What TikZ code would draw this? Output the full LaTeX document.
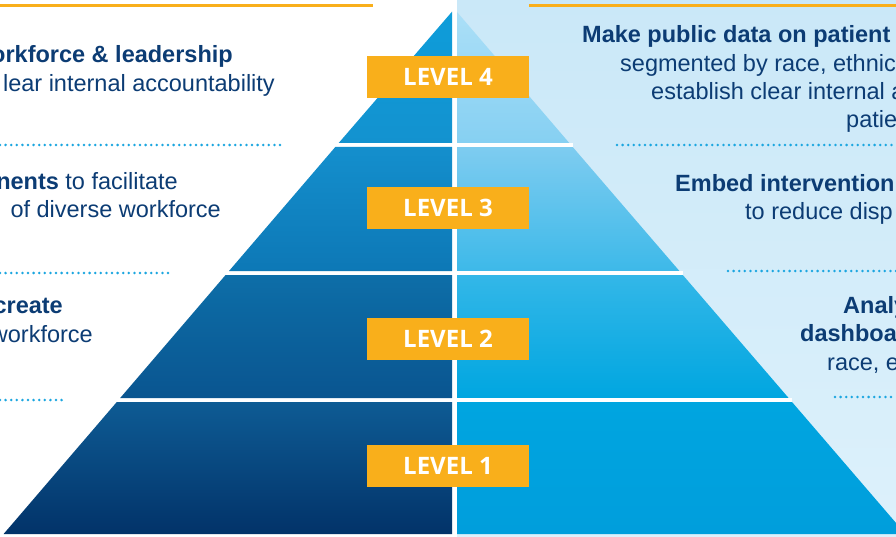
\documentclass[tikz,border=0pt]{standalone}
\usepackage{fontspec}
\setmainfont{Liberation Sans}
\newfontfamily\lvlfont{Open Sans}
\definecolor{navy}{HTML}{0C3C74}
\definecolor{orangeA}{HTML}{F9AF1B}
\definecolor{dotc}{HTML}{1BA6E0}
\definecolor{bgtop}{HTML}{CAE8F8}
\definecolor{bgbot}{HTML}{DDF1FB}
\definecolor{lAt}{HTML}{0E9DDA}\definecolor{lAb}{HTML}{1392CF}
\definecolor{lBt}{HTML}{148FCD}\definecolor{lBb}{HTML}{0D78B6}
\definecolor{lCt}{HTML}{0D6EA8}\definecolor{lCb}{HTML}{0A5590}
\definecolor{lDt}{HTML}{0E5B94}\definecolor{lDb}{HTML}{023369}
\definecolor{rAt}{HTML}{ABDFF7}\definecolor{rAb}{HTML}{86D0F2}
\definecolor{rBt}{HTML}{7ECCF0}\definecolor{rBb}{HTML}{3DB9E9}
\definecolor{rCt}{HTML}{33B7E8}\definecolor{rCb}{HTML}{00A6E0}
\definecolor{rDt}{HTML}{00A5E0}\definecolor{rDb}{HTML}{009EDC}
\tikzset{
  txt/.style={inner sep=0pt, text=navy, font=\fontsize{23.5}{28.5}\selectfont},
  btxt/.style={txt, font=\fontsize{23.5}{28.5}\selectfont\bfseries},
  lvl/.style={fill=orangeA, text=white, minimum width=162pt, minimum height=42pt, inner sep=0pt,
    font=\lvlfont\bfseries\fontsize{24}{28}\selectfont},
  dotline/.style={draw=dotc, line width=2.8pt, line cap=round, dash pattern=on 0pt off 5.6pt},
  topline/.style={draw=orangeA, line width=3pt},
  sep/.style={fill=white}
}
\begin{document}
\begin{tikzpicture}[x=1pt,y=-1pt]
\useasboundingbox (0,0) rectangle (896,537);
\clip (0,0) rectangle (896,537);
\fill[white] (0,0) rectangle (896,537);
\shade[top color=bgtop, bottom color=bgbot] (457,0) rectangle (896,537);
% orange top lines
\draw[topline] (0,6) -- (373,6);
\draw[topline] (529,6) -- (896,6);
% left half of pyramid
\shade[top color=lAt, bottom color=lAb] (452,11.7) -- (452,143) -- (338.7,143) -- cycle;
\shade[top color=lBt, bottom color=lBb] (335.3,147) -- (452,147) -- (452,271) -- (229,271) -- cycle;
\shade[top color=lCt, bottom color=lCb] (225.6,275) -- (452,275) -- (452,398) -- (120.2,398) -- cycle;
\shade[top color=lDt, bottom color=lDb] (116.8,402) -- (452,402) -- (452,534) -- (3.6,534) -- cycle;
% right half of pyramid
\shade[top color=rAt, bottom color=rAb] (457,12) -- (569.3,143) -- (457,143) -- cycle;
\shade[top color=rBt, bottom color=rBb] (457,147) -- (572.7,147) -- (679.4,271) -- (457,271) -- cycle;
\shade[top color=rCt, bottom color=rCb] (457,275) -- (682.8,275) -- (788.6,398) -- (457,398) -- cycle;
\shade[top color=rDt, bottom color=rDb] (457,402) -- (792,402) -- (905.5,534) -- (457,534) -- cycle;
% white separators on the right panel
\fill[sep] (452,143) rectangle (572.7,147);
\fill[sep] (452,271) rectangle (682.8,275);
\fill[sep] (452,398) rectangle (792,402);
% level labels
\node[lvl] (lv4) at (448,77) {LEVEL 4};
\node[lvl] (lv3) at (448,208) {LEVEL 3};
\node[lvl] (lv2) at (448,338.5) {LEVEL 2};
\node[lvl] (lv1) at (448,466) {LEVEL 1};
% left texts
\node[btxt, anchor=base east] (l4a) at (233,63) {orkforce \& leadership};
\node[txt, anchor=base east] (l4b) at (275,92) {lear internal accountability};
\node[txt, anchor=base east] (l3a) at (178,190) {{\bfseries nents} to facilitate};
\node[txt, anchor=base east] (l3b) at (221,218) {of diverse workforce};
\node[btxt, anchor=base east] (l2a) at (63,313) {create};
\node[txt, anchor=base east] (l2b) at (93,342) {workforce};
% right texts
\node[btxt, anchor=base west] (r4a) at (582,43) {Make public data on patient};
\node[txt, anchor=base west] (r4b) at (620,72) {segmented by race, ethnic};
\node[txt, anchor=base west] (r4c) at (651,100) {establish clear internal a};
\node[txt, anchor=base west] (r4d) at (846,128) {patie};
\node[btxt, anchor=base west] (r3a) at (675,192) {Embed intervention};
\node[txt, anchor=base west] (r3b) at (745,220) {to reduce disp};
\node[btxt, anchor=base west] (r2a) at (843,313) {Analy};
\node[btxt, anchor=base west] (r2b) at (800,341) {dashboa};
\node[txt, anchor=base west] (r2c) at (827,370) {race, e};
% dotted rules
\draw[dotline] (0,145) -- (283,145);
\draw[dotline] (0,273) -- (170,273);
\draw[dotline] (0,400) -- (62,400);
\draw[dotline] (617,145) -- (896,145);
\draw[dotline] (728,271) -- (896,271);
\draw[dotline] (835,397) -- (896,397);
\end{tikzpicture}
\end{document}
